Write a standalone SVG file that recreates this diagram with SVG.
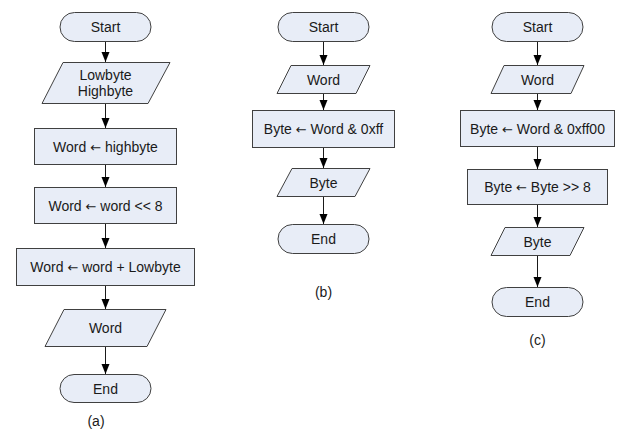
<svg xmlns="http://www.w3.org/2000/svg" width="617" height="430" viewBox="0 0 617 430">
  <style>
    .shape { fill: #e8edf7; stroke: #404040; stroke-width: 1; }
    .lbl { font-family: "Liberation Sans", Arial, sans-serif; font-size: 14px; fill: #1a1a1a; text-anchor: middle; dominant-baseline: central; }
    .arr { font-family: "DejaVu Sans", sans-serif; font-size: 13px; }
    .cap { font-family: "Liberation Sans", Arial, sans-serif; font-size: 14px; fill: #1a1a1a; text-anchor: middle; dominant-baseline: central; }
    .edge { stroke: #1a1a1a; stroke-width: 1; fill: none; marker-end: url(#arrow); }
  </style>
  <defs>
    <marker id="arrow" markerUnits="userSpaceOnUse" markerWidth="10" markerHeight="10" viewBox="0 0 10 10" refX="10" refY="5" orient="auto">
      <path d="M0,1 L10,5 L0,9 Z" fill="#000"/>
    </marker>
  </defs>

  <rect width="617" height="430" fill="#fff"/>

  <!-- Flowchart (a): combine two bytes into a word -->
  <g id="a-start"><rect class="shape" x="60" y="12.5" width="91" height="29" rx="14.5"/><text class="lbl" x="105.5" y="27">Start</text></g>
  <g id="a-input"><polygon class="shape" points="63,62.5 170,62.5 148,103.5 42,103.5"/><text class="lbl" x="105.5" y="75">Lowbyte</text><text class="lbl" x="105.5" y="91">Highbyte</text></g>
  <g id="a-step1"><rect class="shape" x="34.5" y="128.5" width="142" height="36"/><text class="lbl" x="105.5" y="146.5">Word <tspan class="arr">←</tspan> highbyte</text></g>
  <g id="a-step2"><rect class="shape" x="34.5" y="187.5" width="142" height="36"/><text class="lbl" x="105.5" y="205.5">Word <tspan class="arr">←</tspan> word &lt;&lt; 8</text></g>
  <g id="a-step3"><rect class="shape" x="16.5" y="248.5" width="178" height="37"/><text class="lbl" x="105.5" y="267">Word <tspan class="arr">←</tspan> word + Lowbyte</text></g>
  <g id="a-output"><polygon class="shape" points="64,309.5 166,309.5 147,346.5 45,346.5"/><text class="lbl" x="105.5" y="328">Word</text></g>
  <g id="a-end"><rect class="shape" x="60" y="374.5" width="91" height="28" rx="14"/><text class="lbl" x="105.5" y="388.5">End</text></g>
  <text class="cap" x="96" y="421">(a)</text>

  <!-- Flowchart (b): low byte of a word -->
  <g id="b-start"><rect class="shape" x="278" y="12.5" width="91" height="29" rx="14.5"/><text class="lbl" x="323.5" y="27">Start</text></g>
  <g id="b-input"><polygon class="shape" points="291,65.5 370,65.5 356,93.5 277,93.5"/><text class="lbl" x="323.5" y="79.5">Word</text></g>
  <g id="b-step1"><rect class="shape" x="252.5" y="110.5" width="142" height="37"/><text class="lbl" x="323.5" y="129">Byte <tspan class="arr">←</tspan> Word &amp; 0xff</text></g>
  <g id="b-output"><polygon class="shape" points="292,168.5 370,168.5 355,196.5 277,196.5"/><text class="lbl" x="323.5" y="182.5">Byte</text></g>
  <g id="b-end"><rect class="shape" x="278" y="224.5" width="91" height="29" rx="14.5"/><text class="lbl" x="323.5" y="239">End</text></g>
  <text class="cap" x="323.5" y="292">(b)</text>

  <!-- Flowchart (c): high byte of a word -->
  <g id="c-start"><rect class="shape" x="492" y="12.5" width="91" height="29" rx="14.5"/><text class="lbl" x="537.5" y="27">Start</text></g>
  <g id="c-input"><polygon class="shape" points="504,65.5 584,65.5 571,93.5 491,93.5"/><text class="lbl" x="537.5" y="79.5">Word</text></g>
  <g id="c-step1"><rect class="shape" x="460.5" y="110.5" width="154" height="36"/><text class="lbl" x="537.5" y="128.5">Byte <tspan class="arr">←</tspan> Word &amp; 0xff00</text></g>
  <g id="c-step2"><rect class="shape" x="467.5" y="169.5" width="140" height="35"/><text class="lbl" x="537.5" y="187">Byte <tspan class="arr">←</tspan> Byte &gt;&gt; 8</text></g>
  <g id="c-output"><polygon class="shape" points="505,227.5 584,227.5 570,255.5 491,255.5"/><text class="lbl" x="537.5" y="241.5">Byte</text></g>
  <g id="c-end"><rect class="shape" x="492" y="287.5" width="91" height="29" rx="14.5"/><text class="lbl" x="537.5" y="302">End</text></g>
  <text class="cap" x="537.5" y="340">(c)</text>

  <!-- Connectors -->
  <g id="connectors">
    <line class="edge" x1="105.5" y1="42" x2="105.5" y2="62"/>
    <line class="edge" x1="105.5" y1="104" x2="105.5" y2="128"/>
    <line class="edge" x1="105.5" y1="165" x2="105.5" y2="187"/>
    <line class="edge" x1="105.5" y1="224" x2="105.5" y2="248"/>
    <line class="edge" x1="105.5" y1="286" x2="105.5" y2="309"/>
    <line class="edge" x1="105.5" y1="347" x2="105.5" y2="374"/>

    <line class="edge" x1="323.5" y1="42" x2="323.5" y2="65"/>
    <line class="edge" x1="323.5" y1="94" x2="323.5" y2="110"/>
    <line class="edge" x1="323.5" y1="148" x2="323.5" y2="168"/>
    <line class="edge" x1="323.5" y1="197" x2="323.5" y2="224"/>

    <line class="edge" x1="537.5" y1="42" x2="537.5" y2="65"/>
    <line class="edge" x1="537.5" y1="94" x2="537.5" y2="110"/>
    <line class="edge" x1="537.5" y1="147" x2="537.5" y2="169"/>
    <line class="edge" x1="537.5" y1="205" x2="537.5" y2="227"/>
    <line class="edge" x1="537.5" y1="256" x2="537.5" y2="287"/>
  </g>
</svg>
